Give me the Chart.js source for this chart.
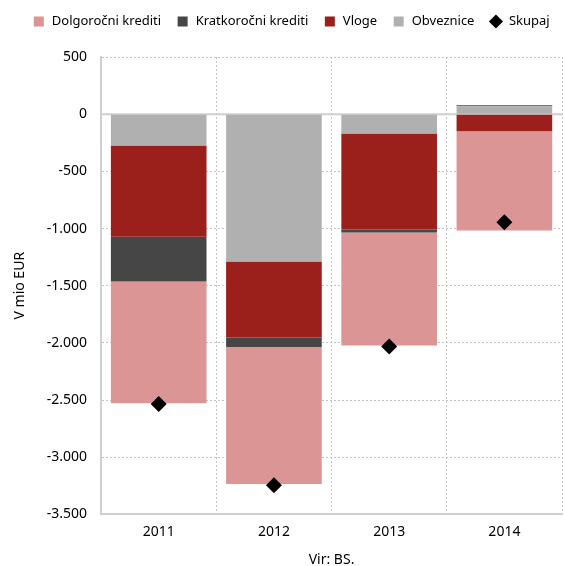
<!DOCTYPE html>
<html>
<head>
<meta charset="utf-8">
<script src="https://cdn.jsdelivr.net/npm/chart.js@4"></script>
<style>
  html, body { margin: 0; padding: 0; overflow: hidden; background: #fff; }
  #wrap { width: 570px; height: 568px; }
</style>
</head>
<body>
<div id="wrap"><canvas id="grafikon"></canvas></div>
<script>
// podatki (mio EUR)
var leta = ['2011', '2012', '2013', '2014'];
var dolgorocni = [-1065, -1200, -990, -867];
var kratkorocni = [-390, -82, -26, 8];
var vloge = [-800, -665, -840, -150];
var obveznice = [-273, -1288, -168, 70];
var skupaj = [-2535, -3245, -2031, -945];
var yTicks = [500, 0, -500, -1000, -1500, -2000, -2500, -3000, -3500];

var pisava = "'Noto Sans', sans-serif";
var mreza = '#c4c4c4';

function stevilo(v) {
  var s = Math.abs(v).toString().replace(/\B(?=(\d{3})+(?!\d))/g, '.');
  return (v < 0 ? '-' : '') + s;
}

// polna siva crta pri 0
var nicla = {
  id: 'nicla',
  beforeDatasetsDraw: function (chart) {
    var y = chart.scales.y.getPixelForValue(0);
    var ctx = chart.ctx;
    ctx.save();
    ctx.strokeStyle = '#cfcfcf';
    ctx.lineWidth = 2;
    ctx.beginPath();
    ctx.moveTo(chart.chartArea.left, y);
    ctx.lineTo(chart.chartArea.right, y);
    ctx.stroke();
    ctx.restore();
  }
};

// vec prostora pod legendo
var razmik = {
  id: 'razmik',
  beforeInit: function (chart) {
    var fit = chart.legend.fit;
    chart.legend.fit = function () {
      fit.bind(chart.legend)();
      this.height += 19;
    };
  }
};

var vrstniRed = ['Dolgoročni krediti', 'Kratkoročni krediti', 'Vloge', 'Obveznice', 'Skupaj'];

new Chart(document.getElementById('grafikon'), {
  type: 'bar',
  data: {
    labels: leta,
    datasets: [
      { label: 'Obveznice', data: obveznice, backgroundColor: '#b0b0b0', pointStyle: 'rect', order: 2 },
      { label: 'Vloge', data: vloge, backgroundColor: '#9b1f1b', pointStyle: 'rect', order: 2 },
      { label: 'Kratkoročni krediti', data: kratkorocni, backgroundColor: '#464646', pointStyle: 'rect', order: 2 },
      { label: 'Dolgoročni krediti', data: dolgorocni, backgroundColor: '#da9594', pointStyle: 'rect', order: 2 },
      {
        type: 'line', label: 'Skupaj', data: skupaj, showLine: false, order: 1,
        pointStyle: 'rectRot', pointRadius: 8, pointHoverRadius: 8,
        backgroundColor: '#000', borderColor: '#000', borderWidth: 0
      }
    ]
  },
  options: {
    responsive: true,
    maintainAspectRatio: false,
    animation: false,
    layout: { padding: { top: 0, left: 12, right: 0, bottom: 0 } },
    datasets: { bar: { categoryPercentage: 1, barPercentage: 0.83 } },
    plugins: {
      legend: {
        position: 'top',
        labels: {
          usePointStyle: true,
          boxHeight: 10,
          padding: 15,
          color: '#000',
          font: { family: pisava, size: 13 },
          sort: function (a, b) {
            return vrstniRed.indexOf(a.text) - vrstniRed.indexOf(b.text);
          }
        }
      },
      tooltip: { enabled: false }
    },
    scales: {
      x: {
        stacked: true,
        grid: { color: mreza, lineWidth: 1, drawTicks: false, offset: true },
        border: { color: '#cfcfcf', width: 2, dash: [2, 2] },
        ticks: { color: '#000', padding: 9, font: { family: pisava, size: 14 } },
        title: { display: true, text: 'Vir: BS.', color: '#000', padding: { top: 2, bottom: 0 }, font: { family: pisava, size: 14 } }
      },
      y: {
        stacked: true,
        min: -3500,
        max: 500,
        afterBuildTicks: function (axis) {
          axis.ticks = yTicks.map(function (v) { return { value: v }; });
        },
        grid: { color: mreza, lineWidth: 1, drawTicks: false },
        border: { color: '#cfcfcf', width: 2, dash: [2, 2] },
        ticks: {
          color: '#000', padding: 14,
          font: { family: pisava, size: 14 },
          callback: function (v) { return stevilo(v); }
        },
        title: { display: true, text: 'V mio EUR', color: '#000', padding: { top: 0, bottom: 4 }, font: { family: pisava, size: 14 } }
      }
    }
  },
  plugins: [nicla, razmik]
});
</script>
</body>
</html>
